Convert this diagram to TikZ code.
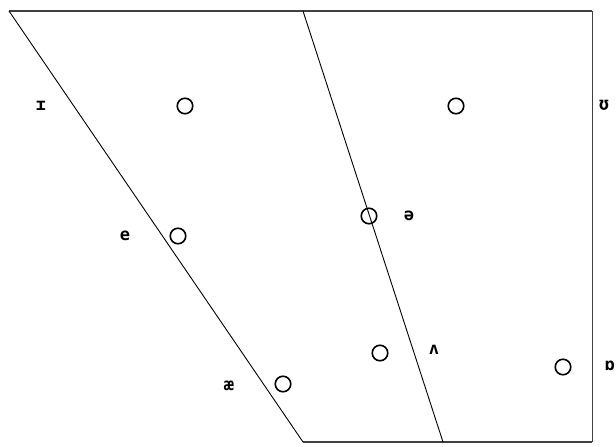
\documentclass[tikz,border=0pt]{standalone}
\usepackage{fontspec}
\newfontfamily\ipafont{DejaVu Sans Mono}[BoldFont={DejaVu Sans Mono Bold}]
\tikzset{
  vowel/.style={circle,draw=black,line width=1.6pt,minimum size=15.5pt,inner sep=0pt},
  lbl/.style={font=\ipafont\bfseries\fontsize{17}{17}\selectfont,inner sep=0pt},
  edge/.style={draw=black,line width=0.9pt}
}
\begin{document}
\begin{tikzpicture}[x=1pt,y=-1pt]
\useasboundingbox (0,0) rectangle (616,447);
\fill[white] (0,0) rectangle (616,447);
% frame corners
\coordinate (tl) at (9,11);
\coordinate (tm) at (303,11);
\coordinate (tr) at (592,11);
\coordinate (bl) at (303,442);
\coordinate (bm) at (443,442);
\coordinate (br) at (592,442);
\draw[edge,line width=1.3pt,draw=black!75] (tl) -- (tr);
\draw[edge,draw=black!75] (tr) -- (br);
\draw[edge,line width=1.3pt,draw=black!75] (bl) -- (br);
\draw[edge] (tl) -- (bl);
\draw[edge] (tm) -- (bm);
% vowels
\node[vowel] (v1) at (185,106) {};
\node[vowel] (v2) at (456,106) {};
\node[vowel] (v3) at (178,236) {};
\node[vowel] (v4) at (369,216) {};
\node[vowel] (v5) at (380,353) {};
\node[vowel] (v6) at (283,384) {};
\node[vowel] (v7) at (563,367) {};
% labels
\node[lbl] (l1) at (41,106) {ɪ};
\node[lbl] (l2) at (604,105) {ʊ};
\node[lbl] (l3) at (125,236) {e};
\node[lbl] (l4) at (409,216) {ə};
\node[lbl] (l5) at (434,350) {ʌ};
\node[lbl] (l6) at (229,386) {æ};
\node[lbl] (l7) at (610,366) {ɒ};
\end{tikzpicture}
\end{document}
